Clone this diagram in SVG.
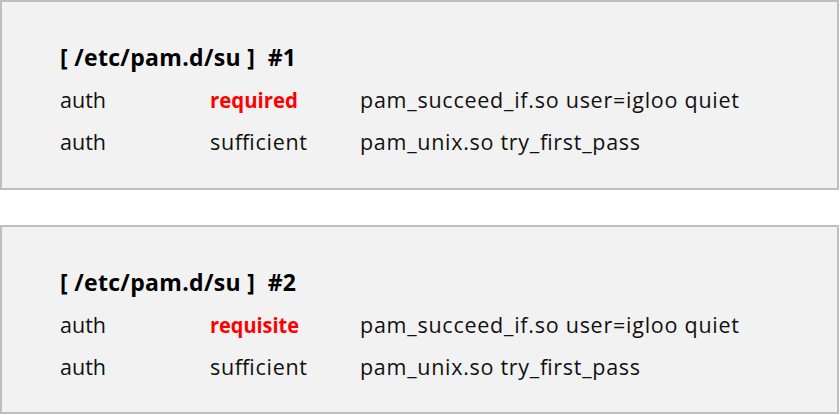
<svg xmlns="http://www.w3.org/2000/svg" width="840" height="415" viewBox="0 0 840 415">
<style>
.box{fill:#f2f2f2;stroke:#bfbfbf;stroke-width:2}
text{font-family:"Open Sans","Noto Sans",sans-serif;font-size:21.5px;fill:#111;white-space:pre}
.title{font-weight:bold;fill:#000;font-size:23px}
.red{font-weight:bold;fill:#ff0000}
</style>
<rect width="840" height="415" fill="#ffffff"/>
<g id="config1">
<rect class="box" x="1" y="1" width="837" height="188"/>
<text class="title" x="60" y="66" xml:space="preserve" textLength="236" lengthAdjust="spacing">[ /etc/pam.d/su ]  #1</text>
<text x="60" y="108">auth</text>
<text class="red" x="210" y="108" textLength="88" lengthAdjust="spacingAndGlyphs">required</text>
<text x="360" y="108" textLength="379" lengthAdjust="spacing">pam_succeed_if.so user=igloo quiet</text>
<text x="60" y="150">auth</text>
<text x="210" y="150" textLength="97" lengthAdjust="spacing">sufficient</text>
<text x="360" y="150" textLength="280" lengthAdjust="spacing">pam_unix.so try_first_pass</text>
</g>
<g id="config2">
<rect class="box" x="1" y="226" width="837" height="187"/>
<text class="title" x="60" y="291" xml:space="preserve" textLength="236" lengthAdjust="spacing">[ /etc/pam.d/su ]  #2</text>
<text x="60" y="333">auth</text>
<text class="red" x="210" y="333" textLength="89" lengthAdjust="spacingAndGlyphs">requisite</text>
<text x="360" y="333" textLength="379" lengthAdjust="spacing">pam_succeed_if.so user=igloo quiet</text>
<text x="60" y="375">auth</text>
<text x="210" y="375" textLength="97" lengthAdjust="spacing">sufficient</text>
<text x="360" y="375" textLength="280" lengthAdjust="spacing">pam_unix.so try_first_pass</text>
</g>
<g id="connectors"></g>
</svg>
